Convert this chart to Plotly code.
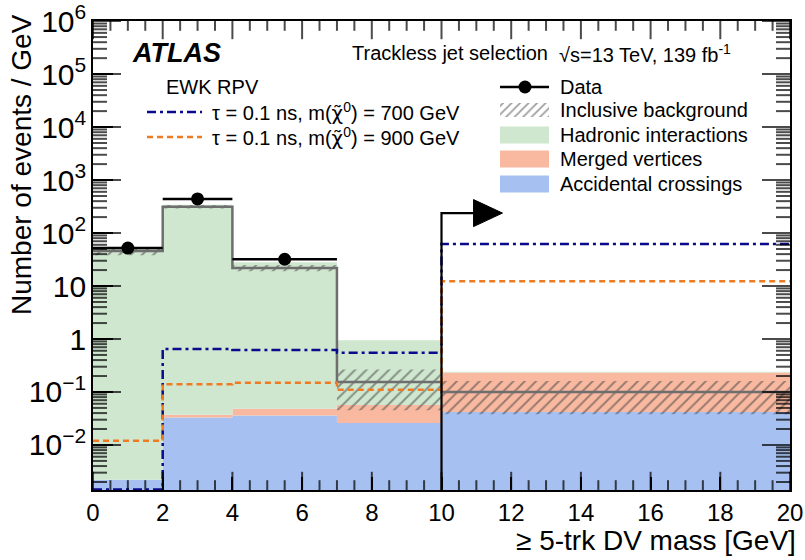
import math
import plotly.graph_objects as go

# ---- binning and yields (events / GeV) ----
bin_edges = [0, 2, 4, 7, 10, 20]

# observed data in the unblinded bins
data_bins = [0, 1, 2]
data_vals = [52, 440, 32]

# inclusive background estimate and its uncertainty
inclusive_bkg = [46, 315, 22, 0.155, 0.10]
inclusive_err = [8, 25, 3, 0.11, 0.062]

# background components (stacked)
accidental = [0.0022, 0.033, 0.036, 0.026, 0.042]
merged = [0.00001, 0.004, 0.012, 0.031, 0.19]
hadronic = [50, 340, 28, 0.89, 0.01]

# signal benchmarks
sig_700 = [0.00145, 0.65, 0.62, 0.55, 62]
sig_900 = [0.012, 0.14, 0.15, 0.11, 12.3]

cut_value = 10
arrow_level = 238

FLOOR = 1e-5
FONT = "Liberation Sans, Arial, Helvetica, sans-serif"

GREEN = "#cfe6cf"
SALMON = "#f8b9a0"
BLUE = "#a6c1f1"
NAVY = "#0a0a8c"
ORANGE = "#f07a22"
GREY = "#6e6e6e"
HATCH = "#3c3c3c"

# plot-area geometry in pixels (used for the overlay and paper conversions)
PX_L, PX_R, PX_T, PX_B = 93, 790, 21, 490
PLOT_W, PLOT_H = PX_R - PX_L, PX_B - PX_T
Y_RANGE = [-2.85, 6.002]
X_RANGE = [0, 20]


def steps(vals):
    xs, ys = [], []
    for i, v in enumerate(vals):
        xs += [bin_edges[i], bin_edges[i + 1]]
        ys += [v, v]
    return xs, ys


def band(lower, upper):
    xu, yu = steps(upper)
    xl, yl = steps(lower)
    return xu + xl[::-1] + [xu[0]], yu + yl[::-1] + [yu[0]]


fig = go.Figure()

# stacked background components
cum0 = [FLOOR] * len(accidental)
cum1 = [a for a in accidental]
cum2 = [a + b for a, b in zip(cum1, merged)]
cum3 = [a + b for a, b in zip(cum2, hadronic)]
for lo, hi, col in [(cum0, cum1, BLUE), (cum1, cum2, SALMON), (cum2, cum3, GREEN)]:
    bx, by = band(lo, hi)
    fig.add_trace(go.Scatter(x=bx, y=by, mode="lines", fill="toself",
                             fillcolor=col, line=dict(width=0), hoverinfo="skip"))

# hatched uncertainty band on the inclusive background
hx, hy = [], []
for i, (b, e) in enumerate(zip(inclusive_bkg, inclusive_err)):
    lo, hi = max(b - e, FLOOR), b + e
    x0, x1 = bin_edges[i], bin_edges[i + 1]
    hx += [x0, x1, x1, x0, x0, None]
    hy += [lo, lo, hi, hi, lo, None]
fig.add_trace(go.Scatter(x=hx, y=hy, mode="lines", fill="toself",
                         fillcolor="rgba(0,0,0,0)", line=dict(width=0),
                         fillpattern=dict(shape="/", fgcolor=HATCH,
                                          bgcolor="rgba(0,0,0,0)", size=8, solidity=0.25),
                         hoverinfo="skip"))

# inclusive background central value
gx, gy = steps(inclusive_bkg)
fig.add_trace(go.Scatter(x=gx, y=gy, mode="lines", line=dict(color=GREY, width=2.5)))

# signal lines
sx, sy = steps(sig_700)
fig.add_trace(go.Scatter(x=sx, y=sy, mode="lines",
                         line=dict(color=NAVY, width=2.5, dash="9px,4px,3px,4px")))
sx, sy = steps(sig_900)
fig.add_trace(go.Scatter(x=sx, y=sy, mode="lines",
                         line=dict(color=ORANGE, width=2.5, dash="6px,4px")))

# signal-region arrow
head_x0, head_x1 = cut_value + 0.92, cut_value + 1.75
fac = 10 ** (13.5 / 53)
fig.add_trace(go.Scatter(x=[cut_value, cut_value, head_x0], y=[FLOOR, arrow_level, arrow_level],
                         mode="lines", line=dict(color="black", width=2.2)))
fig.add_trace(go.Scatter(x=[head_x0, head_x0, head_x1, head_x0],
                         y=[arrow_level * fac, arrow_level / fac, arrow_level, arrow_level * fac],
                         mode="lines", fill="toself", fillcolor="black",
                         line=dict(color="black", width=1)))

# data points with bin-width horizontal bars
dx, dxe, dy, dye = [], [], [], []
for i, v in zip(data_bins, data_vals):
    w = bin_edges[i + 1] - bin_edges[i]
    dx.append((bin_edges[i] + bin_edges[i + 1]) / 2)
    dxe.append(w / 2)
    dy.append(v)
    dye.append(math.sqrt(v * w) / w)
fig.add_trace(go.Scatter(x=dx, y=dy, mode="markers",
                         marker=dict(color="black", size=13),
                         error_x=dict(type="data", array=dxe, color="black", thickness=2.5, width=0),
                         error_y=dict(type="data", array=dye, color="black", thickness=2.5, width=0)))

# ---- frame tick marks on all four edges ----
# each tick is a line marker centred on the frame; the outer half is clipped away
P = dict(xaxis="x2", yaxis="y2", hoverinfo="skip")


def data_x_to_px(xv):
    return PX_L + (xv - X_RANGE[0]) / (X_RANGE[1] - X_RANGE[0]) * PLOT_W


def data_y_to_px(v):
    return PX_B - (math.log10(v) - Y_RANGE[0]) / (Y_RANGE[1] - Y_RANGE[0]) * PLOT_H


vx, vy, vs = [], [], []
for k in range(0, 41):
    px = data_x_to_px(k * 0.5)
    ln = 13 if k % 4 == 0 else 7
    vx += [px, px]
    vy += [PX_T, PX_B]
    vs += [2 * ln, 2 * ln]
hxs, hys, hss = [], [], []
for e in range(-3, 7):
    for m in range(1, 10):
        v = m * 10.0 ** e
        if not (Y_RANGE[0] <= math.log10(v) <= Y_RANGE[1]):
            continue
        py = data_y_to_px(v)
        ln = 20 if m == 1 else 10
        hxs += [PX_L, PX_R]
        hys += [py, py]
        hss += [2 * ln, 2 * ln]
fig.add_trace(go.Scatter(x=vx, y=vy, mode="markers", cliponaxis=True,
                         marker=dict(symbol="line-ns", size=vs, color="black",
                                     line=dict(color="black", width=2)), **P))
fig.add_trace(go.Scatter(x=hxs, y=hys, mode="markers", cliponaxis=True,
                         marker=dict(symbol="line-ew", size=hss, color="black",
                                     line=dict(color="black", width=2)), **P))

# ---- legend, drawn on the pixel overlay ----
fig.add_trace(go.Scatter(x=[147, 202], y=[112, 112], mode="lines",
                         line=dict(color=NAVY, width=2.5, dash="9px,4px,3px,4px"), **P))
fig.add_trace(go.Scatter(x=[147, 202], y=[137, 137], mode="lines",
                         line=dict(color=ORANGE, width=2.5, dash="6px,4px"), **P))
fig.add_trace(go.Scatter(x=[500, 549], y=[87, 87], mode="lines",
                         line=dict(color="black", width=2.5), **P))
fig.add_trace(go.Scatter(x=[525], y=[87], mode="markers",
                         marker=dict(color="black", size=13), **P))
fig.add_trace(go.Scatter(x=[500, 549, 549, 500, 500], y=[103, 103, 117, 117, 103], mode="lines",
                         fill="toself", fillcolor="rgba(0,0,0,0)", line=dict(width=0),
                         fillpattern=dict(shape="/", fgcolor=HATCH,
                                          bgcolor="rgba(0,0,0,0)", size=6, solidity=0.3), **P))
for yc, col in [(135, GREEN), (159, SALMON), (184, BLUE)]:
    fig.add_trace(go.Scatter(x=[500, 549, 549, 500, 500],
                             y=[yc - 8.5, yc - 8.5, yc + 8.5, yc + 8.5, yc - 8.5],
                             mode="lines", fill="toself", fillcolor=col,
                             line=dict(width=0), **P))

ann = []


def text(x, y, s, size=20, anchor="left", **kw):
    ann.append(dict(x=x, y=y, xref="x2", yref="y2", text=s, showarrow=False,
                    xanchor=anchor, yanchor="middle", font=dict(size=size, family=FONT, color="black"), **kw))


CHI = '<span style="font-family:DejaVu Sans">χ̃</span>'
text(130, 53, "<b><i>ATLAS</i></b>", size=27)
text(350, 53, "Trackless jet selection")
text(557, 53, "√s=13 TeV, 139 fb<sup>-1</sup>")
text(164, 87, "EWK RPV")
text(210, 112, f"τ = 0.1 ns, m({CHI}<sup>0</sup>) = 700 GeV")
text(210, 137, f"τ = 0.1 ns, m({CHI}<sup>0</sup>) = 900 GeV")
text(558, 87, "Data")
text(558, 110, "Inclusive background")
text(558, 135, "Hadronic interactions")
text(558, 159, "Merged vertices")
text(558, 184, "Accidental crossings")


def px_to_paper(px, py):
    return (px - PX_L) / PLOT_W, (PX_B - py) / PLOT_H


# axis titles
tx, ty = px_to_paper(798, 540)
ann.append(dict(x=tx, y=ty, xref="paper", yref="paper", text="≥ 5-trk DV mass [GeV]",
                showarrow=False, xanchor="right", yanchor="middle",
                font=dict(size=28, family=FONT, color="black")))
tx, ty = px_to_paper(22, 165)
ann.append(dict(x=tx, y=ty, xref="paper", yref="paper", text="Number of events / GeV",
                showarrow=False, xanchor="center", yanchor="middle", textangle=-90,
                font=dict(size=28, family=FONT, color="black")))

fig.update_layout(
    width=805, height=560,
    margin=dict(l=PX_L, r=805 - PX_R, t=PX_T, b=560 - PX_B),
    plot_bgcolor="white", paper_bgcolor="white",
    showlegend=False,
    font=dict(family=FONT, color="black"),
    annotations=ann,
    xaxis=dict(range=X_RANGE, tick0=0, dtick=2, ticks="inside", ticklen=13, tickwidth=2,
               tickcolor="black", showgrid=False, zeroline=False, automargin=False,
               showline=True, linewidth=2, linecolor="black", mirror=True,
               tickfont=dict(size=24, family=FONT)),
    yaxis=dict(type="log", range=Y_RANGE, tick0=0, dtick=1, ticks="inside", ticklen=20,
               tickwidth=2, tickcolor="black", showgrid=False, zeroline=False,
               automargin=False, exponentformat="power", showline=True, linewidth=2,
               linecolor="black", mirror=True, tickfont=dict(size=24, family=FONT)),
    xaxis2=dict(overlaying="x", range=[PX_L, PX_R], visible=False, anchor="y2"),
    yaxis2=dict(overlaying="y", range=[PX_B, PX_T], visible=False, anchor="x2"),
)

fig.write_html("out.html")
